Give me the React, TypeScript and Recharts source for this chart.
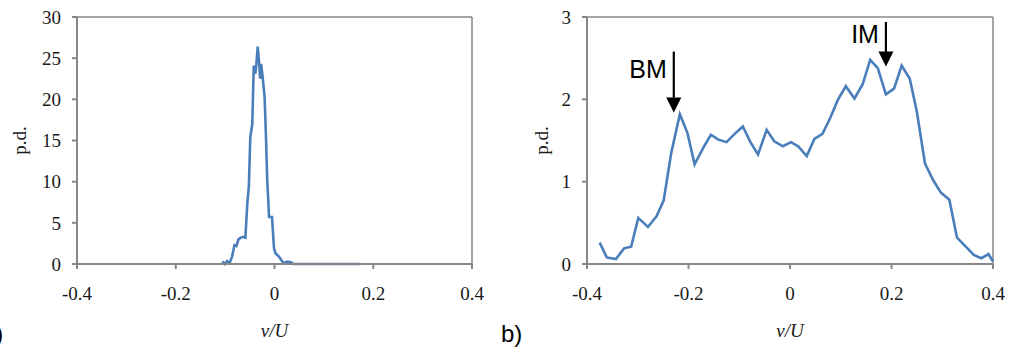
import React from 'react';
import { LineChart, Line, XAxis, YAxis, ReferenceLine, ReferenceDot } from 'recharts';

// a) narrow distribution
const leftX = [
  -0.106, -0.101, -0.096, -0.091, -0.086, -0.081, -0.077, -0.073, -0.068, -0.064, -0.059,
  -0.055, -0.052, -0.049, -0.045, -0.042, -0.039, -0.037, -0.034, -0.031, -0.029, -0.027,
  -0.024, -0.02, -0.017, -0.015, -0.011, -0.005, -0.001, 0.002, 0.009, 0.018, 0.026, 0.034,
  0.038, 0.174,
];
const leftY = [
  0.3, 0, 0.35, 0.1, 0.9, 2.3, 2.2, 3.0, 3.2, 3.3, 3.2,
  7.4, 9.4, 15.4, 17, 24.1, 23.1, 24.1, 26.4, 24.3, 22.5, 24.3,
  22.7, 20.3, 15, 10.6, 5.7, 5.7, 1.9, 1.3, 0.9, 0.1, 0.3, 0.2,
  0, 0,
];

// b) wide distribution
const rightX = [
  -0.375, -0.361, -0.343, -0.327, -0.313, -0.299, -0.28, -0.263, -0.249, -0.234, -0.217,
  -0.202, -0.188, -0.171, -0.156, -0.141, -0.125, -0.109, -0.093, -0.078, -0.063, -0.046,
  -0.031, -0.014, 0.002, 0.016, 0.033, 0.048, 0.064, 0.079, 0.094, 0.11, 0.127, 0.143,
  0.158, 0.173, 0.189, 0.205, 0.22, 0.236, 0.25, 0.266, 0.282, 0.297, 0.314, 0.329,
  0.345, 0.362, 0.377, 0.391, 0.4,
];
const rightY = [
  0.26, 0.08, 0.06, 0.19, 0.21, 0.56, 0.45, 0.58, 0.77, 1.35, 1.82,
  1.59, 1.21, 1.41, 1.57, 1.51, 1.48, 1.58, 1.67, 1.48, 1.33, 1.63,
  1.49, 1.43, 1.48, 1.43, 1.31, 1.52, 1.58, 1.77, 1.99, 2.16, 2.01, 2.18,
  2.48, 2.38, 2.06, 2.13, 2.41, 2.25, 1.85, 1.22, 1.02, 0.87, 0.78, 0.32,
  0.22, 0.11, 0.07, 0.12, 0.03,
];

const xTicks = [-0.4, -0.2, 0, 0.2, 0.4];
const leftYTicks = [0, 5, 10, 15, 20, 25, 30];
const rightYTicks = [0, 1, 2, 3];

// arrow annotations on b): x, top of shaft, base of head, tip, label baseline
const markers = [
  { label: 'BM', x: -0.229, top: 2.58, base: 2.02, tip: 1.84, textY: 2.26 },
  { label: 'IM', x: 0.189, top: 2.94, base: 2.56, tip: 2.4, textY: 2.69 },
];

const leftData = leftX.map((x, i) => ({ x, y: leftY[i] }));
const rightData = rightX.map((x, i) => ({ x, y: rightY[i] }));

const AXIS = '#878787';
const BLUE = '#4a7ebb';
const SERIF = '"Liberation Serif", "Times New Roman", serif';
const SANS = '"Liberation Sans", Arial, sans-serif';
const tickStyle = { fontSize: 19, fill: '#1a1a1a', fontFamily: SERIF };

const YLabel = ({ viewBox, at }: any) => {
  const cx = viewBox.x + at;
  const cy = viewBox.y + viewBox.height / 2;
  return (
    <text x={cx} y={cy} transform={`rotate(-90 ${cx} ${cy})`} textAnchor="middle"
      fontFamily={SERIF} fontSize={19} fill="#1a1a1a">p.d.</text>
  );
};

const XLabel = ({ viewBox }: any) => (
  <text x={viewBox.x + viewBox.width / 2} y={337} textAnchor="middle"
    fontFamily={SERIF} fontStyle="italic" fontSize={19} fill="#1a1a1a">v/U</text>
);

const fmt = (v: number) => (v === 0 ? '0' : String(v));

export default function App() {
  return (
    <div style={{ position: 'absolute', left: 0, top: 0, width: 1010, height: 352, background: '#fff', overflow: 'hidden' }}>
      <div style={{ position: 'absolute', left: 0, top: 0 }}>
        <LineChart width={500} height={352} data={leftData} margin={{ top: 17, right: 28, bottom: 0, left: 0 }}>
          <XAxis type="number" dataKey="x" domain={[-0.4, 0.4]} ticks={xTicks} tickFormatter={fmt}
            stroke={AXIS} strokeWidth={2} tickSize={5} tickMargin={18} tick={tickStyle} height={88}
            interval={0} label={<XLabel />} />
          <YAxis type="number" domain={[0, 30]} ticks={leftYTicks} stroke={AXIS} strokeWidth={2}
            tickSize={5} tickMargin={11} tick={tickStyle} width={77} interval={0}
            label={<YLabel at={26} />} />
          <ReferenceLine y={30} stroke={AXIS} strokeWidth={1.5} />
          <ReferenceLine x={0.4} stroke={AXIS} strokeWidth={1.5} />
          <Line type="linear" dataKey="y" stroke={BLUE} strokeWidth={2.6} dot={false} isAnimationActive={false} />
        </LineChart>
      </div>
      <div style={{ position: 'absolute', left: 500, top: 0 }}>
        <LineChart width={510} height={352} data={rightData} margin={{ top: 17, right: 17, bottom: 0, left: 0 }}>
          <XAxis type="number" dataKey="x" domain={[-0.4, 0.4]} ticks={xTicks} tickFormatter={fmt}
            stroke={AXIS} strokeWidth={2} tickSize={5} tickMargin={18} tick={tickStyle} height={88}
            interval={0} label={<XLabel />} />
          <YAxis type="number" domain={[0, 3]} ticks={rightYTicks} stroke={AXIS} strokeWidth={2}
            tickSize={5} tickMargin={11} tick={tickStyle} width={87} interval={0}
            label={<YLabel at={48} />} />
          <ReferenceLine y={3} stroke={AXIS} strokeWidth={1.5} />
          <ReferenceLine x={0.4} stroke={AXIS} strokeWidth={1.5} />
          <Line type="linear" dataKey="y" stroke={BLUE} strokeWidth={2.6} dot={false} isAnimationActive={false} />
          {markers.map((m) => (
            <ReferenceLine key={m.label + 'shaft'} segment={[{ x: m.x, y: m.top }, { x: m.x, y: m.base }]}
              stroke="#000" strokeWidth={2.2} />
          ))}
          {markers.map((m) => (
            <ReferenceDot key={m.label + 'head'} x={m.x} y={m.tip} r={0}
              shape={(p: any) => (
                <path d={`M${p.cx},${p.cy} L${p.cx - 7.5},${p.cy - 15} L${p.cx + 7.5},${p.cy - 15} Z`} fill="#000" />
              )} />
          ))}
          {markers.map((m) => (
            <ReferenceDot key={m.label + 'text'} x={m.x} y={m.textY} r={0}
              shape={(p: any) => (
                <text x={p.cx - 7} y={p.cy} textAnchor="end" fontFamily={SANS} fontSize={25} fill="#000">{m.label}</text>
              )} />
          ))}
        </LineChart>
      </div>
      <div style={{ position: 'absolute', left: -18, top: 322, fontFamily: SANS, fontSize: 24, lineHeight: '24px', color: '#000' }}>a)</div>
      <div style={{ position: 'absolute', left: 501, top: 322, fontFamily: SANS, fontSize: 24, lineHeight: '24px', color: '#000' }}>b)</div>
    </div>
  );
}
